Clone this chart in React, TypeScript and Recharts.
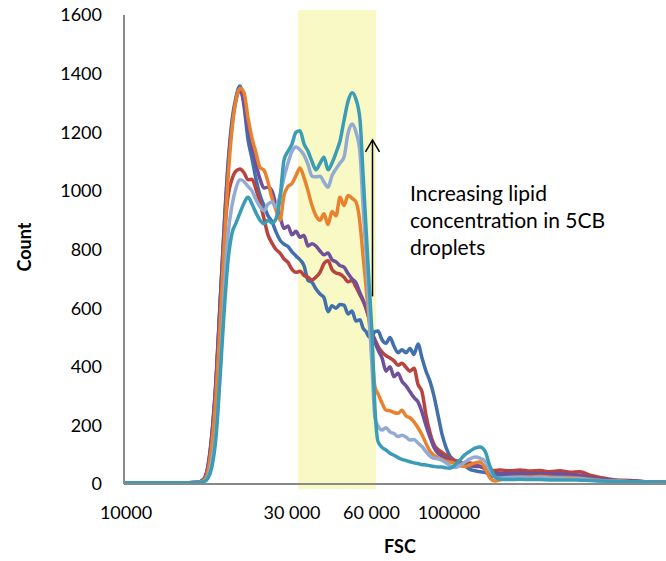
import { LineChart, Line, XAxis, YAxis, ReferenceArea, ReferenceLine } from 'recharts'

// FSC channel grid (histogram bins), shared by every sample
const channels = [
  0, 52, 112, 148,
  160, 168, 176, 184, 192, 200, 208, 216, 224,
  232, 240, 248, 256, 264, 272, 280, 288, 296, 304, 312, 320, 328, 336, 344, 352, 360, 368, 376, 384, 392, 400, 408, 416, 424, 432, 440, 448, 456, 464, 472,
  478, 484, 490, 496, 502, 508,
  516, 524, 532, 540, 548, 556, 564, 572, 580, 588, 596, 604, 612, 620, 628, 636, 644, 652,
  662, 672, 682, 692, 702, 712, 722, 732, 742, 752,
  772, 792, 812, 832, 852, 872, 892, 912, 932, 952,
  982, 1012, 1042, 1084,
]

// counts per sample, lowest to highest lipid concentration
const blue = [
  4, 4, 4, 6,
  16, 60, 170, 350, 610, 870, 1090, 1240, 1320,
  1358, 1290, 1175, 1110, 1040, 985, 950, 915, 895, 860, 832, 818, 810, 792, 778, 765, 745, 695, 688, 665, 648, 636, 588, 608, 600, 612, 610, 580, 590, 556, 560,
  532, 520, 502, 505, 520, 522,
  492, 480, 500, 470, 448, 458, 448, 462, 442, 478, 430, 385, 350, 300, 235, 170, 125, 95,
  80, 75, 62, 50, 45, 42, 40, 30, 25, 28,
  30, 32, 30, 30, 28, 28, 26, 24, 18, 14,
  12, 10, 8, 6,
]
const red = [
  4, 4, 4, 6,
  16, 58, 165, 340, 600, 830, 980, 1040, 1068,
  1075, 1062, 1038, 1040, 1005, 960, 905, 850, 822, 800, 788, 768, 756, 732, 722, 726, 712, 705, 696, 706, 722, 752, 762, 732, 720, 716, 705, 690, 694, 672, 645,
  625, 600, 565, 515, 492, 470,
  450, 438, 430, 420, 405, 412, 398, 385, 395, 340, 315, 235, 175, 135, 118, 108, 98, 88,
  80, 75, 68, 72, 66, 60, 52, 48, 46, 48,
  45, 48, 44, 46, 42, 45, 40, 42, 30, 22,
  14, 12, 8, 6,
]
const purple = [
  4, 4, 4, 6,
  18, 62, 175, 355, 610, 860, 1080, 1225, 1310,
  1345, 1300, 1220, 1150, 1090, 1040, 1010, 1012, 1000, 950, 912, 872, 880, 850, 862, 842, 848, 812, 820, 812, 795, 782, 788, 765, 758, 745, 740, 718, 700, 686, 652,
  628, 600, 565, 520, 485, 458,
  430, 385, 400, 366, 378, 350, 335, 315, 295, 280, 245, 200, 160, 125, 105, 95, 85, 78,
  72, 66, 65, 62, 60, 60, 58, 40, 35, 36,
  36, 38, 35, 36, 34, 36, 32, 30, 22, 16,
  12, 10, 8, 6,
]
const orange = [
  4, 4, 4, 5,
  12, 45, 140, 300, 540, 800, 1040, 1210, 1310,
  1350, 1335, 1250, 1180, 1130, 1080, 1070, 1030, 975, 935, 900, 985, 1015, 1025, 1052, 1078, 1045, 1000, 950, 915, 900, 922, 885, 930, 915, 978, 950, 984, 975, 962, 890,
  780, 675, 560, 440, 330, 308,
  276, 252, 250, 244, 241, 252, 232, 226, 212, 192, 168, 138, 112, 98, 90, 84, 78, 75,
  70, 62, 60, 65, 72, 75, 55, 20, 10, 14,
  22, 24, 24, 26, 24, 22, 22, 20, 16, 12,
  10, 8, 6, 5,
]
const lightBlue = [
  4, 4, 4, 5,
  10, 25, 80, 180, 372, 640, 850, 950, 1010,
  1038, 1032, 1015, 1000, 970, 946, 932, 955, 962, 945, 985, 1045, 1095, 1135, 1150, 1140, 1122, 1090, 1050, 1048, 1050, 1030, 1012, 1052, 1075, 1095, 1115, 1196, 1228, 1200, 1130,
  950, 790, 590, 400, 225, 198,
  184, 192, 178, 172, 162, 166, 160, 150, 152, 140, 128, 110, 95, 88, 86, 80, 72, 62,
  56, 64, 75, 86, 92, 88, 78, 45, 24, 20,
  22, 22, 20, 22, 20, 20, 18, 18, 14, 12,
  10, 8, 6, 5,
]
const teal = [
  4, 4, 4, 5,
  8, 20, 60, 160, 360, 580, 760, 855, 890,
  925, 958, 978, 955, 925, 900, 888, 900, 890, 905, 975, 1105, 1135, 1160, 1200, 1205, 1160, 1135, 1100, 1072, 1094, 1115, 1072, 1095, 1130, 1170, 1240, 1305, 1335, 1312, 1242,
  1060, 875, 690, 510, 255, 145,
  125, 116, 105, 98, 90, 84, 80, 76, 72, 70, 66, 65, 62, 60, 58, 58, 55, 54,
  65, 82, 100, 112, 122, 126, 112, 60, 25, 16,
  15, 16, 15, 15, 14, 14, 14, 13, 12, 10,
  9, 8, 7, 6,
]

const seriesValues = [blue, red, purple, orange, lightBlue, teal]
const seriesColors = ['#4170AD', '#B8433F', '#70509A', '#E8822E', '#92ABD4', '#3A9DB5']

const xTickChannels = [4, 336, 495, 650]
const xTickLabels = ['10000', '30 000', '60 000', '100000']
const yTicks = [0, 200, 400, 600, 800, 1000, 1200, 1400, 1600]

// highlighted gate and the "increasing" arrow
const gateChannels = [348, 504]
const gateCounts = [-17, 1617]
const arrowChannel = 497
const arrowCounts = [640, 1174]

const rows = channels.map((ch, i) => {
  const row: Record<string, number> = { ch }
  seriesValues.forEach((vals, s) => { row['s' + s] = vals[i] })
  return row
})

const tickStyle = { fill: '#000', fontSize: 18, fontFamily: 'Lato' }
const axisStyle = { stroke: '#898989', strokeWidth: 2 }

function ArrowShape(props: any) {
  const { x1, y1, y2 } = props
  const top = Math.min(y1, y2)
  const bottom = Math.max(y1, y2)
  return (
    <g>
      <line x1={x1} y1={bottom} x2={x1} y2={top} stroke="#000" strokeWidth={1.5} />
      <polyline points={`${x1 - 7},${top + 12} ${x1},${top} ${x1 + 7},${top + 12}`} fill="none" stroke="#000" strokeWidth={1.5} />
    </g>
  )
}

export default function App() {
  return (
    <div style={{ position: 'absolute', left: 0, top: 0, width: 666, height: 561, background: '#fff' }}>
      <LineChart width={666} height={561} data={rows} margin={{ top: 15, right: 0, bottom: 0, left: 0 }}>
        <ReferenceArea
          x1={gateChannels[0]} x2={gateChannels[1]} y1={gateCounts[0]} y2={gateCounts[1]}
          fill="#F9F9C5" fillOpacity={1} stroke="none" ifOverflow="visible"
        />
        <XAxis
          type="number" dataKey="ch" domain={[0, 1084]} ticks={xTickChannels} interval={0}
          tickFormatter={(v: number) => xTickLabels[xTickChannels.indexOf(v)] ?? ''}
          tickLine={false} tickSize={6} tickMargin={16} axisLine={axisStyle} tick={tickStyle}
          height={77} allowDataOverflow
          label={{
            position: 'insideBottom',
            content: () => (
              <text x={400} y={553} textAnchor="middle" style={{ fontFamily: 'Lato', fontWeight: 700, fontSize: 18 }}>FSC</text>
            ),
          }}
        />
        <YAxis
          type="number" domain={[0, 1600]} ticks={yTicks} interval={0} width={124}
          tickLine={false} tickSize={6} tickMargin={16} axisLine={axisStyle} tick={tickStyle}
          label={{
            position: 'center',
            content: () => (
              <text x={31} y={247} transform="rotate(-90 31 247)" textAnchor="middle" style={{ fontFamily: 'Lato', fontWeight: 700, fontSize: 18 }}>Count</text>
            ),
          }}
        />
        {seriesColors.map((c, s) => (
          <Line
            key={s} dataKey={'s' + s} type="monotone" stroke={c} strokeWidth={3.5}
            dot={false} activeDot={false} isAnimationActive={false}
          />
        ))}
        <ReferenceLine
          segment={[{ x: arrowChannel, y: arrowCounts[0] }, { x: arrowChannel, y: arrowCounts[1] }]}
          shape={ArrowShape} ifOverflow="visible"
        />
      </LineChart>
      <div style={{ position: 'absolute', left: 410, top: 179, fontFamily: 'Lato', fontSize: 21, lineHeight: '27px', color: '#000', whiteSpace: 'nowrap' }}>
        Increasing lipid<br />concentration in 5CB<br />droplets
      </div>
    </div>
  )
}
